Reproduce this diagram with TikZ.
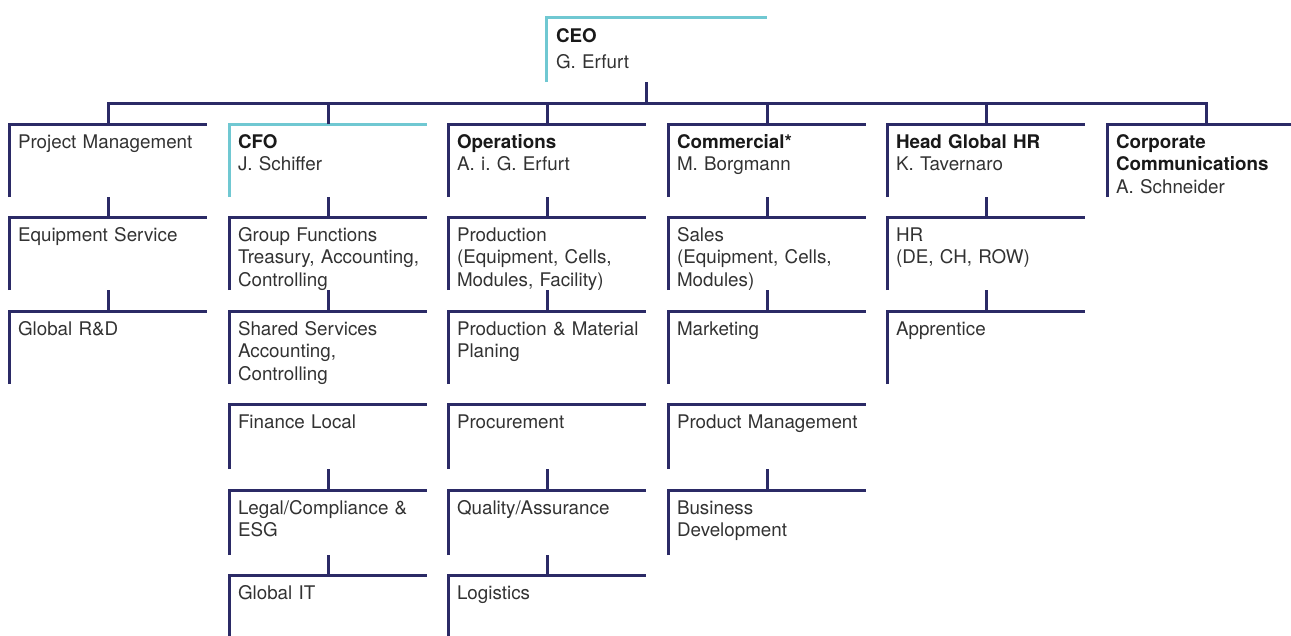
\documentclass[tikz,border=0pt]{standalone}
\usepackage{fontspec}
\setmainfont{TeX Gyre Heros}
\usepackage{xcolor}
\usepackage{tikz}
\usetikzlibrary{positioning}

\definecolor{navy}{RGB}{43,42,102}
\definecolor{teal}{RGB}{112,200,210}
\definecolor{ink}{RGB}{50,50,50}
\newcommand{\hd}[1]{\textcolor{black!90}{\textbf{#1}}}
\frenchspacing

\begin{document}
\begin{tikzpicture}[
			x=1pt,y=-1pt,
			unit/.style={anchor=north west,inner sep=0pt,outer sep=0pt,
				text width=189pt,align=left,text height=24pt,text depth=49pt,
				text=ink,font=\fontsize{18.8}{22.5}\selectfont\frenchspacing},
			short/.style={unit,text depth=41pt},
			frame/.style={navy,line width=3pt},
			chief/.style={teal,line width=3pt},
			link/.style={navy,line width=3pt}
			]

			\clip (0,0) rectangle (1291,635);

			% top
			\node[unit,text width=211pt,text height=25pt,text depth=40pt] (ceo) at (556,17) {\hd{CEO}\\[4pt]G. Erfurt};

			% first row
			\node[unit] (pm) at (18,124) {Project Management};
			\node[unit] (cfo) at (238,124) {\hd{CFO}\\J. Schiffer};
			\node[unit] (ops) at (457,124) {\hd{Operations}\\A. i. G. Erfurt};
			\node[unit] (com) at (677,124) {\hd{Commercial*}\\M. Borgmann};
			\node[unit] (hgh) at (896,124) {\hd{Head Global HR}\\K. Tavernaro};
			\node[unit] (cc) at (1116,124) {\hd{Corporate}\\\hd{Communications}\\A. Schneider};

			% second row
			\node[unit] (es) at (18,217) {Equipment Service};
			\node[unit] (gf) at (238,217) {Group Functions\\Treasury, Accounting,\\Controlling};
			\node[unit] (prod) at (457,217) {Production\\(Equipment, Cells,\\Modules, Facility)};
			\node[unit] (sal) at (677,217) {Sales\\(Equipment, Cells,\\Modules)};
			\node[unit] (hrl) at (896,217) {HR\\(DE, CH, ROW)};

			% third row
			\node[unit] (rd) at (18,311) {Global R\&D};
			\node[unit] (ss) at (238,311) {Shared Services\\Accounting,\\Controlling};
			\node[unit] (pmp) at (457,311) {Production \& Material\\Planing};
			\node[unit] (mkt) at (677,311) {Marketing};
			\node[unit] (app) at (896,311) {Apprentice};

			% fourth row
			\node[short] (fl) at (238,404) {Finance Local};
			\node[short] (pc) at (457,404) {Procurement};
			\node[short] (prm) at (677,404) {Product Management};

			% fifth row
			\node[short] (lc) at (238,490) {Legal/Compliance \&\\ESG};
			\node[short] (qa) at (457,490) {Quality/Assurance};
			\node[short] (bd) at (677,490) {Business\\Development};

			% sixth row
			\node[unit] (it) at (238,575) {Global IT};
			\node[unit] (log) at (457,575) {Logistics};

			% frames
			\foreach \n in {pm,ops,com,hgh,cc,es,gf,prod,sal,hrl,rd,ss,pmp,mkt,app,fl,pc,prm,lc,qa,bd,it,log}
				\draw[frame] ([xshift=-9pt]\n.south west) |- (\n.north east);
			\draw[chief] ([xshift=-9pt]cfo.south west) |- (cfo.north east);
			\draw[chief] ([xshift=-10pt]ceo.south west) |- (ceo.north east);

			% bus
			\coordinate (hub) at (646,103);
			\draw[link] (hub |- ceo.south) -- (hub);
			\draw[link] ([xshift=-4.5pt]pm.north) |- (hub) -| ([xshift=-4.5pt]cc.north);
			\foreach \n in {cfo,ops,com,hgh}
				\draw[link] ([xshift=-4.5pt]\n.north) -- ([xshift=-4.5pt]\n.north |- hub);

			% stubs
			\foreach \a/\b in {pm/es,es/rd,cfo/gf,gf/ss,fl/lc,lc/it,ops/prod,prod/pmp,pc/qa,qa/log,com/sal,sal/mkt,prm/bd,hgh/hrl,hrl/app}
				\draw[link] ([xshift=-4.5pt]\a.south) -- ([xshift=-4.5pt]\b.north);

			\end{tikzpicture}
\end{document}
